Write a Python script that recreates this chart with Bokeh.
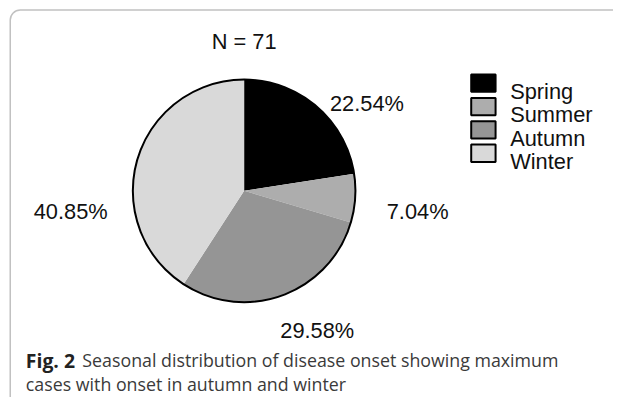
import numpy as np
from bokeh.plotting import figure
from bokeh.models import Range1d, BoxAnnotation, ColumnDataSource
from bokeh.core.properties import value
from bokeh.embed import file_html
from bokeh.resources import INLINE

# ---- data ----
seasons = ["Spring", "Summer", "Autumn", "Winter"]
counts = [16, 5, 21, 29]
colors = ["#000000", "#adadad", "#959595", "#d9d9d9"]
title_text = "N = 71"
caption_bold = "Fig. 2"
caption_line1 = "Seasonal distribution of disease onset showing maximum"
caption_line2 = "cases with onset in autumn and winter"

# ---- layout: reference pixel grid (629x413) scaled into the figure ----
W, H = 613, 397
SX, SY = W / 629, H / 413
S = (SX + SY) / 2
def X(ix):
    return ix * SX
def Y(iy):
    return H - iy * SY
def F(px):
    return f"{px * S:.1f}px"

cx, cy, R = X(250), Y(198), 115 * S
# label anchor positions (reference px, baseline) for each season's percentage
label_pos = [(376, 107), (428, 219), (325, 343), (72, 219)]

p = figure(width=W, height=H, output_backend="svg", toolbar_location=None,
           x_axis_type=None, y_axis_type=None, min_border=0,
           x_range=Range1d(0, W), y_range=Range1d(0, H))
p.outline_line_color = None
p.background_fill_color = "white"
p.border_fill_color = "white"

# outer rounded frame
p.add_layout(BoxAnnotation(left=X(10), right=X(640), top=Y(10), bottom=Y(423),
                           fill_alpha=0, line_color="#333333", line_width=1.5,
                           border_radius=10))

# pie wedges
total = sum(counts)
frac = np.array(counts) / total
cum = np.concatenate([[0], np.cumsum(frac)])
start = np.pi / 2 - 2 * np.pi * cum[:-1]
end = np.pi / 2 - 2 * np.pi * cum[1:]
src = ColumnDataSource(dict(x=[cx] * 4, y=[cy] * 4, start=start, end=end, color=colors))
p.wedge(x="x", y="y", radius=R, start_angle="start", end_angle="end",
        direction="clock", fill_color="color", line_color=None, source=src)
p.circle(x=cx, y=cy, radius=R, fill_color=None, line_color="black", line_width=2)

# percentage labels
pct = [f"{100 * c / total:.2f}%" for c in counts]
p.text(x=[X(a) for a, b in label_pos], y=[Y(b) for a, b in label_pos], text=pct,
       text_font=value("Liberation Sans"), text_font_size=F(22.5),
       text_align="center", text_baseline="alphabetic", text_color="#111111")

# title
p.text(x=[X(250)], y=[Y(43)], text=[title_text], text_font=value("Liberation Sans"),
       text_font_size=F(22.5), text_align="center", text_baseline="alphabetic",
       text_color="#111111")

# legend
leg_cy = [86 + 24.3 * i for i in range(len(seasons))]
p.rect(x=[X(495.5)] * 4, y=[Y(v) for v in leg_cy], width=25 * SX, height=18 * SY,
       fill_color=colors, line_color="black", line_width=2)
p.text(x=[X(523)] * 4, y=[Y(v + 8.5) for v in leg_cy], text=seasons,
       text_font=value("Liberation Sans"), text_font_size=F(22.5),
       text_align="left", text_baseline="alphabetic", text_color="#111111")

# caption
p.text(x=[X(26)], y=[Y(374)], text=[caption_bold], text_font=value("Open Sans"),
       text_font_size=F(20), text_font_style="bold", text_align="left",
       text_baseline="alphabetic", text_color="#222222")
p.text(x=[X(84), X(26)], y=[Y(374), Y(399)], text=[caption_line1, caption_line2],
       text_font=value("Open Sans"), text_font_size=F(18.4), text_align="left",
       text_baseline="alphabetic", text_color="#3a3a3a")

open("out.html", "w").write(file_html(p, INLINE))
